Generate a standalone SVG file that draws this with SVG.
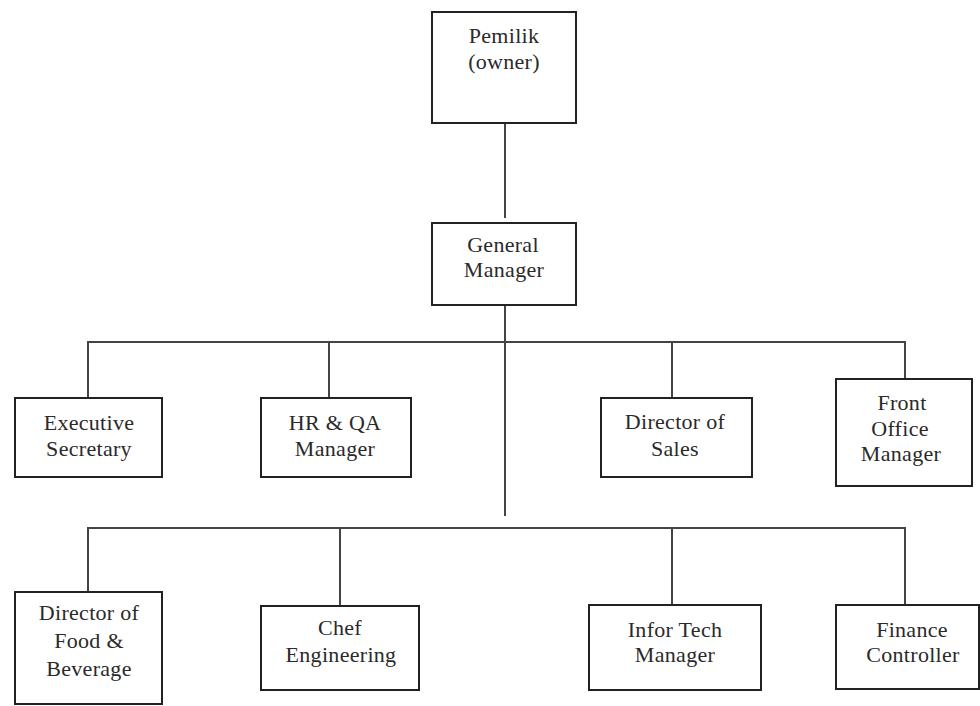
<svg xmlns="http://www.w3.org/2000/svg" width="980" height="706" viewBox="0 0 980 706">
<style>
.box{fill:#fff;stroke:#222;stroke-width:2}
.ln{fill:none;stroke:#444;stroke-width:2}
text{font-family:"Liberation Serif","Times New Roman",serif;font-size:22px;letter-spacing:0.3px;fill:#2a2a2a;text-anchor:middle}
</style>
<rect width="980" height="706" fill="#fff"/>
<g id="connectors">
<path class="ln" d="M505 123V218"/>
<path class="ln" d="M505 305V516"/>
<path class="ln" d="M88 398V342H905V379"/>
<path class="ln" d="M329 342V398"/>
<path class="ln" d="M672 342V398"/>
<path class="ln" d="M88 592V528H905V605"/>
<path class="ln" d="M340 528V606"/>
<path class="ln" d="M672 528V605"/>
</g>
<g id="owner"><rect class="box" x="432" y="12" width="144" height="111"/><text x="504" y="43">Pemilik</text><text x="504" y="69">(owner)</text></g>
<g id="gm"><rect class="box" x="432" y="223" width="144" height="82"/><text x="503" y="252">General</text><text x="504" y="277">Manager</text></g>
<g id="exec"><rect class="box" x="15" y="398" width="147" height="79"/><text x="89" y="430">Executive</text><text x="89" y="456">Secretary</text></g>
<g id="hr"><rect class="box" x="261" y="398" width="150" height="79"/><text x="335" y="430">HR &amp; QA</text><text x="335" y="456">Manager</text></g>
<g id="sales"><rect class="box" x="601" y="398" width="151" height="79"/><text x="675" y="429">Director of</text><text x="675" y="456">Sales</text></g>
<g id="frontoffice"><rect class="box" x="836" y="379" width="136" height="107"/><text x="902" y="410">Front</text><text x="900" y="436">Office</text><text x="901" y="461">Manager</text></g>
<g id="fnb"><rect class="box" x="15" y="592" width="147" height="112"/><text x="89" y="620">Director of</text><text x="89" y="648">Food &amp;</text><text x="89" y="676">Beverage</text></g>
<g id="chef"><rect class="box" x="261" y="606" width="158" height="84"/><text x="340" y="635">Chef</text><text x="341" y="662">Engineering</text></g>
<g id="it"><rect class="box" x="589" y="605" width="172" height="85"/><text x="675" y="637">Infor Tech</text><text x="675" y="662">Manager</text></g>
<g id="finance"><rect class="box" x="836" y="605" width="143" height="84"/><text x="912" y="637">Finance</text><text x="913" y="662">Controller</text></g>
</svg>
